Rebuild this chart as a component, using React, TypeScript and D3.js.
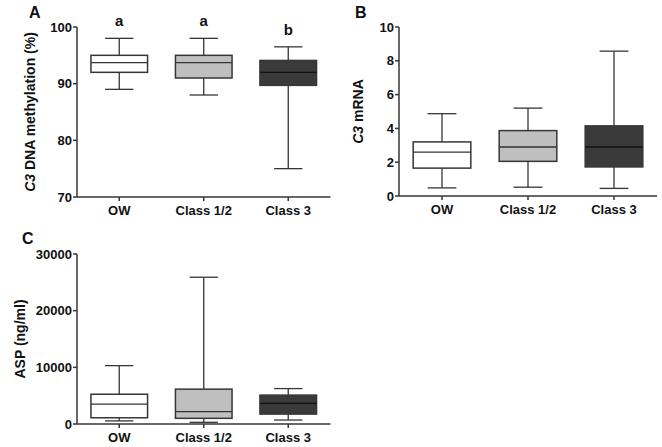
import React from "react";
import * as d3 from "d3";

const categories = ["OW", "Class 1/2", "Class 3"];
const fills = ["#ffffff", "#bfbfbf", "#3a3a3a"];
const medianColors = ["#333333", "#333333", "#111111"];

// Panel A: C3 DNA methylation (%)
const methMin = [89, 88, 75];
const methQ1 = [92, 91, 89.7];
const methMedian = [93.7, 93.7, 92];
const methQ3 = [95, 95, 94.1];
const methMax = [98, 98, 96.5];
const methTicks = [70, 80, 90, 100];
const methLetters = ["a", "a", "b"];

// Panel B: C3 mRNA
const mrnaMin = [0.48, 0.52, 0.45];
const mrnaQ1 = [1.65, 2.05, 1.72];
const mrnaMedian = [2.6, 2.9, 2.9];
const mrnaQ3 = [3.2, 3.87, 4.15];
const mrnaMax = [4.87, 5.2, 8.57];
const mrnaTicks = [0, 2, 4, 6, 8, 10];

// Panel C: ASP (ng/ml)
const aspMin = [550, 300, 700];
const aspQ1 = [1100, 1000, 1750];
const aspMedian = [3500, 2200, 3650];
const aspQ3 = [5250, 6150, 5100];
const aspMax = [10300, 25900, 6250];
const aspTicks = [0, 10000, 20000, 30000];

const FONT = "'Liberation Sans', Arial, sans-serif";
const STROKE = "#363636";

type PanelProps = {
  x0: number;
  x1: number;
  yTop: number;
  yBottom: number;
  domain: [number, number];
  ticks: number[];
  mins: number[];
  q1s: number[];
  medians: number[];
  q3s: number[];
  maxs: number[];
  letter: string;
  letterX: number;
  letterY: number;
  title: React.ReactNode;
  titleX: number;
  tickFont: number;
  sig?: string[];
};

function Panel(p: PanelProps) {
  const y = d3.scaleLinear().domain(p.domain).range([p.yBottom, p.yTop]);
  const x = d3.scalePoint<string>().domain(categories).range([p.x0, p.x1]).padding(0.5);
  const step = x.step();
  const bw = step * 0.67;
  const cap = bw / 2;
  return (
    <g>
      <text x={p.letterX} y={p.letterY} fontFamily={FONT} fontWeight="bold" fontSize={16} fill="#111">
        {p.letter}
      </text>
      <text
        transform={`translate(${p.titleX},${(p.yTop + p.yBottom) / 2}) rotate(-90)`}
        textAnchor="middle"
        fontFamily={FONT}
        fontWeight="bold"
        fontSize={14}
        fill="#111"
      >
        {p.title}
      </text>
      {/* y axis */}
      <line x1={p.x0} x2={p.x0} y1={p.yTop} y2={p.yBottom} stroke={STROKE} strokeWidth={1.5} />
      {p.ticks.map((t) => (
        <g key={t}>
          <line x1={p.x0 - 4} x2={p.x0} y1={y(t)} y2={y(t)} stroke={STROKE} strokeWidth={1.5} />
          <text
            x={p.x0 - 5}
            y={y(t)}
            dy="0.36em"
            textAnchor="end"
            fontFamily={FONT}
            fontWeight="bold"
            fontSize={p.tickFont}
            fill="#111"
          >
            {t}
          </text>
        </g>
      ))}
      {/* x axis */}
      <line x1={p.x0} x2={p.x1} y1={p.yBottom} y2={p.yBottom} stroke={STROKE} strokeWidth={1.5} />
      {categories.map((c, i) => {
        const cx = x(c)!;
        return (
          <g key={c}>
            <line x1={cx} x2={cx} y1={p.yBottom} y2={p.yBottom + 4} stroke={STROKE} strokeWidth={1.5} />
            <text
              x={cx}
              y={p.yBottom + 18}
              textAnchor="middle"
              fontFamily={FONT}
              fontWeight="bold"
              fontSize={13}
              fill="#111"
            >
              {c}
            </text>
            {/* whiskers */}
            <line x1={cx} x2={cx} y1={y(p.maxs[i])} y2={y(p.q3s[i])} stroke={STROKE} strokeWidth={1.3} />
            <line x1={cx} x2={cx} y1={y(p.q1s[i])} y2={y(p.mins[i])} stroke={STROKE} strokeWidth={1.3} />
            <line x1={cx - cap / 2} x2={cx + cap / 2} y1={y(p.maxs[i])} y2={y(p.maxs[i])} stroke={STROKE} strokeWidth={1.3} />
            <line x1={cx - cap / 2} x2={cx + cap / 2} y1={y(p.mins[i])} y2={y(p.mins[i])} stroke={STROKE} strokeWidth={1.3} />
            <rect
              x={cx - bw / 2}
              y={y(p.q3s[i])}
              width={bw}
              height={y(p.q1s[i]) - y(p.q3s[i])}
              fill={fills[i]}
              stroke={STROKE}
              strokeWidth={1.5}
            />
            <line
              x1={cx - bw / 2}
              x2={cx + bw / 2}
              y1={y(p.medians[i])}
              y2={y(p.medians[i])}
              stroke={medianColors[i]}
              strokeWidth={1.3}
            />
            {p.sig && (
              <text
                x={cx}
                y={y(p.maxs[i]) - 12}
                textAnchor="middle"
                fontFamily={FONT}
                fontWeight="bold"
                fontSize={15}
                fill="#111"
              >
                {p.sig[i]}
              </text>
            )}
          </g>
        );
      })}
    </g>
  );
}

export default function App() {
  return (
    <svg
      width={662}
      height={447}
      style={{ position: "absolute", left: 0, top: 0, background: "#ffffff" }}
    >
      <Panel
        x0={77}
        x1={330.5}
        yTop={27}
        yBottom={197}
        domain={[70, 100]}
        ticks={methTicks}
        mins={methMin}
        q1s={methQ1}
        medians={methMedian}
        q3s={methQ3}
        maxs={methMax}
        letter="A"
        letterX={29}
        letterY={18}
        title={
          <>
            <tspan fontStyle="italic">C3</tspan> DNA methylation (%)
          </>
        }
        titleX={35}
        tickFont={13}
        sig={methLetters}
      />
      <Panel
        x0={399}
        x1={657}
        yTop={27}
        yBottom={196}
        domain={[0, 10]}
        ticks={mrnaTicks}
        mins={mrnaMin}
        q1s={mrnaQ1}
        medians={mrnaMedian}
        q3s={mrnaQ3}
        maxs={mrnaMax}
        letter="B"
        letterX={355}
        letterY={18}
        title={
          <>
            <tspan fontStyle="italic">C3</tspan> mRNA
          </>
        }
        titleX={363}
        tickFont={13}
      />
      <Panel
        x0={77}
        x1={330.5}
        yTop={254}
        yBottom={424}
        domain={[0, 30000]}
        ticks={aspTicks}
        mins={aspMin}
        q1s={aspQ1}
        medians={aspMedian}
        q3s={aspQ3}
        maxs={aspMax}
        letter="C"
        letterX={22}
        letterY={244}
        title="ASP (ng/ml)"
        titleX={25}
        tickFont={13}
      />
    </svg>
  );
}
